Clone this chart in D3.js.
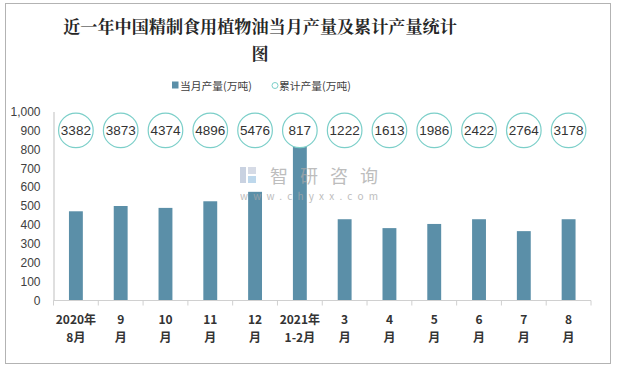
<!DOCTYPE html>
<html><head><meta charset="utf-8">
<script src="https://cdn.jsdelivr.net/npm/d3@7/dist/d3.min.js"></script>
<style>body{margin:0;background:#fff;}svg{display:block;}</style>
</head><body><svg id="c" width="618" height="368"></svg>
<script>
const categories = [["2020年","8月"],["9","月"],["10","月"],["11","月"],["12","月"],["2021年","1-2月"],["3","月"],["4","月"],["5","月"],["6","月"],["7","月"],["8","月"]];
const monthly = [472, 500, 490, 525, 575, 817, 430, 383, 405, 430, 367, 430];
const cumulative = [3382, 3873, 4374, 4896, 5476, 817, 1222, 1613, 1986, 2422, 2764, 3178];
const yTicks = [0,100,200,300,400,500,600,700,800,900,1000];
const circleLevel = 900;

const svg = d3.select("#c");
const font = "'Noto Sans CJK SC','Noto Sans',sans-serif";
function fit(sel, target){
  const w = sel.node().getComputedTextLength();
  const fs = parseFloat(sel.attr("font-size"));
  sel.attr("font-size", fs*target/w);
  return sel;
}
svg.append("rect").attr("x",5.5).attr("y",3.5).attr("width",605).attr("height",360).attr("fill","#fff").attr("stroke","#b3b3b3").attr("stroke-width",1);

// title
const tf = "'Noto Serif CJK SC','Noto Sans CJK SC',serif";
const t1 = svg.append("text").attr("x",260).attr("y",33).attr("text-anchor","middle").attr("font-family",tf).attr("font-weight","bold").attr("font-size",22).attr("fill","#262626").text("近一年中国精制食用植物油当月产量及累计产量统计");
fit(t1, 394);
svg.append("text").attr("x",260).attr("y",60).attr("text-anchor","middle").attr("font-family",tf).attr("font-weight","bold").attr("font-size",t1.attr("font-size")).attr("fill","#262626").text("图");

// legend
svg.append("rect").attr("x",172).attr("y",81.5).attr("width",6.5).attr("height",7).attr("fill","#5b8fa8");
const l1 = svg.append("text").attr("x",180).attr("y",90).attr("font-family",font).attr("font-size",13).attr("fill","#404040").text("当月产量(万吨)");
fit(l1, 72);
svg.append("circle").attr("cx",275).attr("cy",85.5).attr("r",3).attr("fill","#fff").attr("stroke","#7ccfc9").attr("stroke-width",1);
svg.append("text").attr("x",279).attr("y",90).attr("font-family",font).attr("font-size",l1.attr("font-size")).attr("fill","#404040").text("累计产量(万吨)");

const x = d3.scaleBand().domain(d3.range(categories.length)).range([53.5,591]).paddingInner(0.69).paddingOuter(0.345);
const y = d3.scaleLinear().domain([0,1000]).range([300.5,111.5]);

// bars
svg.append("g").selectAll("rect").data(monthly).join("rect")
  .attr("x",(d,i)=>x(i)).attr("y",d=>y(d)).attr("width",x.bandwidth()).attr("height",d=>y(0)-y(d))
  .attr("fill","#5b8fa8");

// watermark (drawn over bars)
const wm = svg.append("g").attr("opacity",0.75);
wm.append("rect").attr("x",240).attr("y",167).attr("width",6).attr("height",16).attr("fill","#b7c3d8");
wm.append("rect").attr("x",248).attr("y",167).attr("width",8).attr("height",7).attr("fill","#c9d0de");
wm.append("rect").attr("x",248).attr("y",176).attr("width",8).attr("height",7).attr("fill","#a9cbe6");
wm.append("text").attr("x",270).attr("y",183).attr("font-family",font).attr("font-size",18).attr("fill","#a8a8a8").attr("textLength",108).attr("lengthAdjust","spacing").text("智研咨询");
wm.append("text").attr("x",240).attr("y",200).attr("font-family",font).attr("font-size",10).attr("fill","#a8a8a8").attr("textLength",138).attr("lengthAdjust","spacing").text("www.chyxx.com");

// y axis
const yAxis = d3.axisLeft(y).tickValues(yTicks).tickSize(0).tickPadding(13).tickFormat(d3.format(","));
const ya = svg.append("g").attr("transform","translate(53.5,0)").call(yAxis);
ya.select(".domain").attr("stroke","#bfbfbf");
ya.selectAll("text").attr("font-family","'Liberation Sans',sans-serif").attr("font-size",12).attr("fill","#404040");

// x axis
const xa = svg.append("g").attr("transform","translate(0,300.5)");
xa.append("line").attr("x1",53.5).attr("x2",591).attr("stroke","#d0d0d0");
const step = x.step();
xa.selectAll("line.t").data(d3.range(categories.length+1)).join("line").attr("class","t")
  .attr("x1",d=>53.5+d*step).attr("x2",d=>53.5+d*step).attr("y1",0).attr("y2",5).attr("stroke","#d0d0d0");
[0,1].forEach(k=>{
  xa.selectAll("text.l"+k).data(categories).join("text").attr("class","l"+k)
    .attr("text-anchor","middle").attr("font-family",font).attr("font-weight","bold").attr("font-size",12).attr("fill","#333")
    .attr("x",(d,i)=>x(i)+x.bandwidth()/2).attr("y",k?41:23.5).text(d=>d[k]);
});

// cumulative circles
const cg = svg.append("g");
cg.selectAll("circle").data(cumulative).join("circle")
  .attr("cx",(d,i)=>x(i)+x.bandwidth()/2).attr("cy",y(circleLevel)).attr("r",17.3)
  .attr("fill","#fff").attr("stroke","#7ccfc9").attr("stroke-width",1.2);
cg.selectAll("text").data(cumulative).join("text")
  .attr("x",(d,i)=>x(i)+x.bandwidth()/2).attr("y",y(circleLevel)+5).attr("text-anchor","middle")
  .attr("font-family","'Liberation Sans',sans-serif").attr("font-size",13.5).attr("fill","#333").text(d=>d);
</script></body></html>
